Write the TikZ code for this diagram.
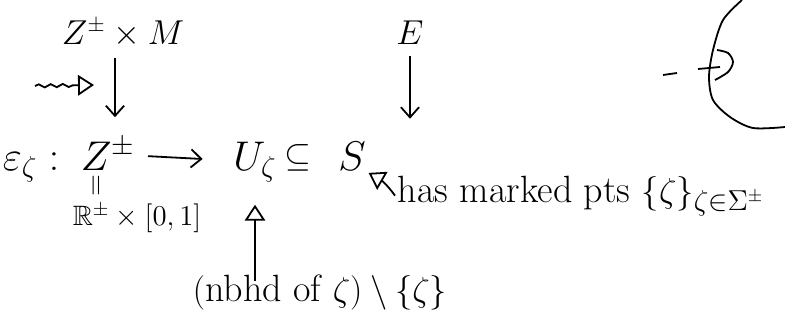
\documentclass[tikz,border=0pt]{standalone}
\usepackage{amsmath,amssymb}
\usetikzlibrary{arrows.meta, positioning, decorations.pathmorphing}

\begin{document}
\begin{tikzpicture}[x=0.5pt, y=-0.5pt, line width=0.9pt,
    every node/.style={font=\fontsize{21}{25}\selectfont, inner sep=1pt},
    top/.style={font=\fontsize{16}{19}\selectfont},
    note/.style={font=\fontsize{14}{17}\selectfont},
    arrow/.style={-{Straight Barb[length=1.8mm, width=3.2mm]}},
    hollow/.style={-{Triangle[open, length=2.8mm, width=3.6mm]}},
    squiggle/.style={decorate, decoration={snake, amplitude=0.8pt, segment length=6pt, post length=3mm}}
]
\useasboundingbox (0,0) rectangle (785,322);

% top row
\node[top] (zm) at (123,33) {$Z^{\pm}\times M$};
\node[top] (e) at (410,33) {$E$};

% main row
\node[anchor=base] (eps) at (31,170) {$\varepsilon_\zeta :$};
\node[anchor=base] (z) at (108,170) {$Z^{\pm}$};
\node[anchor=base] (u) at (255,170) {$U_\zeta$};
\node[anchor=base, font=\fontsize{16}{19}\selectfont] (sub) at (298,166) {$\subseteq$};
\node[anchor=base] (s) at (352,170) {$S$};

% under the main row
\node[note, rotate=90] (eq) at (98,186) {$=$};
\node[note] (r) at (137,218) {$\mathbb{R}^{\pm}\times[0,1]$};
\node[font=\fontsize{19}{23}\selectfont, anchor=base west] (marked) at (395,202) {has marked pts $\{\zeta\}_{\zeta\in\Sigma^{\pm}}$};
\node[font=\fontsize{19}{23}\selectfont] (nbhd) at (320,292) {$(\text{nbhd of }\zeta)\setminus\{\zeta\}$};

\coordinate (sqa) at (35,86);
\coordinate (sqb) at (94,85);

% arrows
\draw[arrow, shorten <=4pt, shorten >=9pt] ([xshift=-4pt]zm.south) -- ([xshift=-4pt]zm.south |- z.north);
\draw[arrow, shorten <=4pt, shorten >=10pt] (e.south) -- (e.south |- s.north);
\draw[arrow, shorten <=5pt, shorten >=14pt] (z) -- (u);
\draw[hollow, shorten <=-5pt, shorten >=10pt] (nbhd.north -| u.south) -- (u.south);
\draw[hollow] (marked.west) to[out=125, in=-30] (s.south east);
\draw[hollow, squiggle] (sqa) -- (sqb);

% picture on the right
\draw (663,75) -- (677,73);
\draw (698,69) -- (720,67);
\draw plot[smooth] coordinates {(742,0) (723,20) (713,50) (709,77) (713,100) (730,117) (753,128) (785,127)};
\draw plot[smooth] coordinates {(717,50) (728,53) (733,62) (728,72) (715,80)};

\end{tikzpicture}
\end{document}
